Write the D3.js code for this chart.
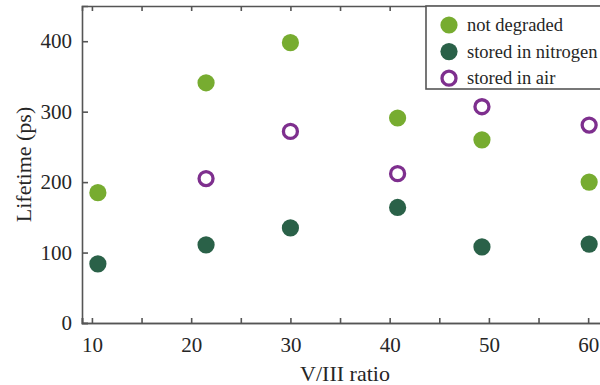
<!DOCTYPE html>
<html>
<head>
<meta charset="utf-8">
<script src="https://cdn.jsdelivr.net/npm/d3@7"></script>
<style>
  html, body { margin: 0; padding: 0; background: #fff; }
  svg { display: block; }
</style>
</head>
<body>
<svg id="chart" width="600" height="385"></svg>
<script>
// V/III ratio for each sample
const ratioNotDegraded = [10.6, 21.5, 30.0, 40.8, 49.3, 60.1];
const lifetimeNotDegraded = [185, 341, 398, 291, 260, 200];

const ratioNitrogen = [10.6, 21.5, 30.0, 40.8, 49.3, 60.1];
const lifetimeNitrogen = [84, 111, 135, 164, 108, 112];

const ratioAir = [21.5, 30.0, 40.8, 49.3, 60.1];
const lifetimeAir = [205, 272, 212, 307, 281];

const xTickValues = [10, 20, 30, 40, 50, 60];
const xMinorTickValues = [15, 25, 35, 45, 55];
const yTickValues = [0, 100, 200, 300, 400];

const seriesNames = ["not degraded", "stored in nitrogen", "stored in air"];

const colGreen = "#77ac30";
const colDark = "#2a6148";
const colPurple = "#7e2f8e";
const axisCol = "#555555";
const textCol = "#262626";
const serif = "'Liberation Serif', 'Times New Roman', Times, serif";

const svg = d3.select("#chart");
const margin = { left: 82, top: 6, right: 608, bottom: 323 };

const x = d3.scaleLinear().domain([9, 62]).range([margin.left, margin.right]);
const y = d3.scaleLinear().domain([0, 450]).range([margin.bottom, margin.top]);

const tickFont = "21px";

// bottom axis with inward major + minor ticks
const gx = svg.append("g").attr("transform", `translate(0,${margin.bottom})`);
gx.call(d3.axisBottom(x).tickValues(xTickValues).tickSize(-5).tickPadding(14).tickFormat(d3.format("d")));
gx.append("g").call(d3.axisBottom(x).tickValues(xMinorTickValues).tickSize(-5).tickFormat(""));
gx.selectAll("text").attr("dy", "0.71em");

// top mirror axis
const gt = svg.append("g").attr("transform", `translate(0,${margin.top})`);
gt.call(d3.axisTop(x).tickValues(xTickValues.concat(xMinorTickValues)).tickSize(-5).tickFormat(""));

// left axis
const gy = svg.append("g").attr("transform", `translate(${margin.left},0)`);
gy.call(d3.axisLeft(y).tickValues(yTickValues).tickSize(-6).tickPadding(10).tickFormat(d3.format("d")));

// right axis line
const gr = svg.append("g").attr("transform", `translate(${margin.right},0)`);
gr.call(d3.axisRight(y).tickValues(yTickValues).tickSize(-6).tickFormat(""));

svg.selectAll("g").attr("font-family", serif);
svg.selectAll(".tick text")
  .style("font-family", serif)
  .style("font-size", tickFont)
  .attr("fill", textCol);
svg.selectAll(".domain").attr("stroke", axisCol).attr("stroke-width", 1.6);
svg.selectAll(".tick line").attr("stroke", axisCol).attr("stroke-width", 1.6);

// axis titles
svg.append("text")
  .attr("x", (margin.left + margin.right) / 2)
  .attr("y", 381)
  .attr("text-anchor", "middle")
  .style("font-family", serif)
  .style("font-size", "22px")
  .attr("fill", textCol)
  .text("V/III ratio");

svg.append("text")
  .attr("transform", `translate(31,${(margin.top + margin.bottom) / 2}) rotate(-90)`)
  .attr("text-anchor", "middle")
  .style("font-family", serif)
  .style("font-size", "22px")
  .attr("fill", textCol)
  .text("Lifetime (ps)");

const r = 8.6;

// markers
const plot = svg.append("g");
plot.selectAll("circle.nd")
  .data(ratioNotDegraded.map((v, i) => [v, lifetimeNotDegraded[i]]))
  .join("circle").attr("class", "nd")
  .attr("cx", d => x(d[0])).attr("cy", d => y(d[1])).attr("r", r)
  .attr("fill", colGreen);

plot.selectAll("circle.n2")
  .data(ratioNitrogen.map((v, i) => [v, lifetimeNitrogen[i]]))
  .join("circle").attr("class", "n2")
  .attr("cx", d => x(d[0])).attr("cy", d => y(d[1])).attr("r", r)
  .attr("fill", colDark);

plot.selectAll("circle.air")
  .data(ratioAir.map((v, i) => [v, lifetimeAir[i]]))
  .join("circle").attr("class", "air")
  .attr("cx", d => x(d[0])).attr("cy", d => y(d[1])).attr("r", r - 1.6)
  .attr("fill", "none").attr("stroke", colPurple).attr("stroke-width", 3.3);

// legend
const lg = svg.append("g");
lg.append("rect")
  .attr("x", 426).attr("y", margin.top)
  .attr("width", 200).attr("height", 89 - margin.top)
  .attr("fill", "#fff").attr("stroke", axisCol).attr("stroke-width", 1.6);

const legendRows = [
  { name: seriesNames[0], fill: colGreen, stroke: "none" },
  { name: seriesNames[1], fill: colDark, stroke: "none" },
  { name: seriesNames[2], fill: "none", stroke: colPurple }
];
legendRows.forEach((row, i) => {
  const cy = 25 + i * 26.6;
  lg.append("circle")
    .attr("cx", 449).attr("cy", cy)
    .attr("r", row.stroke === "none" ? r : r - 1.6)
    .attr("fill", row.fill)
    .attr("stroke", row.stroke)
    .attr("stroke-width", 3.3);
  lg.append("text")
    .attr("x", 467).attr("y", cy)
    .attr("dy", "0.33em")
    .style("font-family", serif)
    .style("font-size", "18.5px")
    .attr("fill", textCol)
    .text(row.name);
});
</script>
</body>
</html>
